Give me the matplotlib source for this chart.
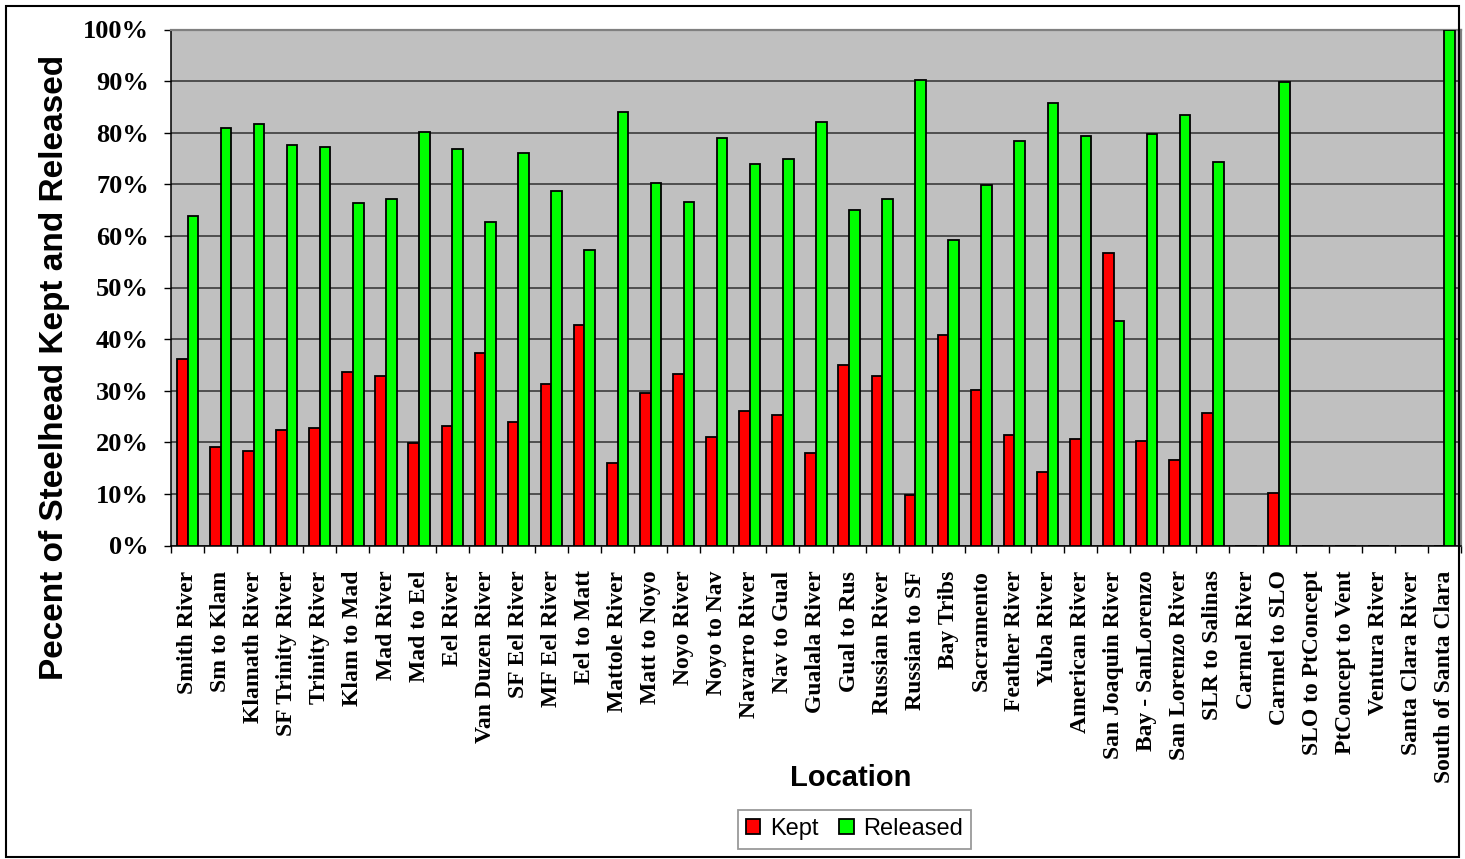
import numpy as np
import matplotlib.pyplot as plt
from matplotlib.patches import Rectangle
from matplotlib.ticker import FixedLocator

locations = ["Smith River", "Sm to Klam", "Klamath River", "SF Trinity River",
             "Trinity River", "Klam to Mad", "Mad River", "Mad to Eel", "Eel River",
             "Van Duzen River", "SF Eel River", "MF Eel River", "Eel to Matt",
             "Mattole River", "Matt to Noyo", "Noyo River", "Noyo to Nav",
             "Navarro River", "Nav to Gual", "Gualala River", "Gual to Rus",
             "Russian River", "Russian to SF", "Bay Tribs", "Sacramento",
             "Feather River", "Yuba River", "American River", "San Joaquin River",
             "Bay - SanLorenzo", "San Lorenzo River", "SLR to Salinas", "Carmel River",
             "Carmel to SLO", "SLO to PtConcept", "PtConcept to Vent", "Ventura River",
             "Santa Clara River", "South of Santa Clara"]

# percent of steelhead kept / released per location
kept = [36.2, 19.1, 18.3, 22.3, 22.8, 33.7, 32.9, 19.9, 23.2, 37.3,
        24.0, 31.3, 42.7, 15.9, 29.6, 33.3, 21.1, 26.0, 25.2, 17.9,
        35.0, 32.9, 9.8, 40.7, 30.1, 21.5, 14.2, 20.7, 56.6, 20.3,
        16.6, 25.6, 0, 10.1, 0, 0, 0, 0, 0]
released = [63.8, 80.9, 81.7, 77.7, 77.3, 66.3, 67.1, 80.1, 76.9, 62.6,
            76.0, 68.7, 57.3, 84.1, 70.3, 66.6, 78.9, 74.0, 74.9, 82.1,
            65.0, 67.1, 90.3, 59.3, 69.9, 78.4, 85.8, 79.3, 43.5, 79.7,
            83.4, 74.4, 0, 89.8, 0, 0, 0, 0, 100.0]

W, H = 1465, 859
fig = plt.figure(figsize=(W / 100, H / 100), dpi=100)
ax = fig.add_axes([171 / W, 1 - 545.5 / H, (1461 - 171) / W, (545.5 - 29.5) / H])
ax.set_facecolor('#C0C0C0')

x = np.arange(len(locations))
bw = 0.32
ax.bar(x - bw / 2, kept, bw, color='#FF0000', edgecolor='black', linewidth=1.3,
       label='Kept', zorder=3)
ax.bar(x + bw / 2, released, bw, color='#00FF00', edgecolor='black', linewidth=1.3,
       label='Released', zorder=3)

ax.set_xlim(-0.5, len(locations) - 0.5)
ax.set_ylim(0, 100)

yt = np.arange(0, 101, 10)
ax.set_yticks(yt)
ax.set_yticklabels([f'{v}%' for v in yt], family='Liberation Serif',
                   fontweight='bold', fontsize=19)
ax.tick_params(axis='y', direction='out', length=5, width=1, pad=11)
ax.yaxis.grid(True, color='#303030', linewidth=1.1, zorder=1)
ax.set_axisbelow(True)

ax.set_xticks(x)
ax.set_xticklabels(locations, rotation=90, ha='center', va='top',
                   family='Liberation Serif', fontweight='bold', fontsize=17)
ax.tick_params(axis='x', which='major', length=0, pad=18)
ax.xaxis.set_minor_locator(FixedLocator(np.arange(-0.5, len(locations), 1.0)))
ax.tick_params(axis='x', which='minor', direction='out', length=5, width=1)

for s in ['left', 'bottom']:
    ax.spines[s].set_color('black')
    ax.spines[s].set_linewidth(1.1)
for s in ['top', 'right']:
    ax.spines[s].set_color('#808080')
    ax.spines[s].set_linewidth(1.6)

fig.text(55 / W, 1 - 367 / H, 'Pecent of Steelhead Kept and Released', rotation=90,
         ha='center', va='center', family='Liberation Sans', fontweight='bold',
         fontsize=24)
fig.text(851 / W, 1 - 778 / H, 'Location', ha='center', va='center',
         family='Liberation Sans', fontweight='bold', fontsize=21)

leg = fig.legend(loc='upper center', bbox_to_anchor=(854.5 / W, 1 - 810 / H),
                 ncol=2, frameon=True, fancybox=False, shadow=False,
                 prop={'family': 'Liberation Sans', 'size': 17},
                 handlelength=0.6, handleheight=0.6, handletextpad=0.4,
                 columnspacing=0.9, borderpad=0.35, borderaxespad=0)
leg.get_frame().set_edgecolor('#808080')
leg.get_frame().set_linewidth(1.3)

fig.patches.append(Rectangle((6 / W, 2 / H), (1459 - 6) / W, (857 - 6) / H,
                             transform=fig.transFigure, fill=False,
                             edgecolor='black', linewidth=1.5, zorder=5))

fig.savefig('out.png', dpi=100)
